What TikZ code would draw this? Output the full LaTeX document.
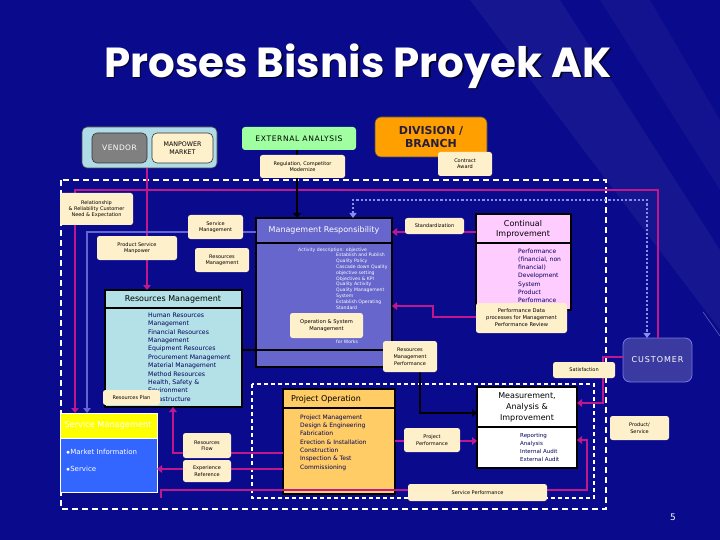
\documentclass[tikz,border=0pt]{standalone}
\usepackage{fontspec}
\setmainfont{DejaVu Sans}
\newfontfamily\titlefont{Poppins}
\usetikzlibrary{arrows.meta}
\definecolor{bg}{RGB}{10,10,140}
\definecolor{cream}{RGB}{255,240,204}
\definecolor{grpblue}{RGB}{176,220,232}
\definecolor{vgray}{RGB}{128,128,128}
\definecolor{eagreen}{RGB}{160,255,160}
\definecolor{divorange}{RGB}{255,160,0}
\definecolor{mag}{RGB}{192,24,140}
\definecolor{lavline}{RGB}{100,100,210}
\definecolor{mrblue}{RGB}{102,102,204}
\definecolor{cipink}{RGB}{255,204,255}
\definecolor{rmcyan}{RGB}{180,224,232}
\definecolor{smyellow}{RGB}{255,255,0}
\definecolor{smblue}{RGB}{51,102,255}
\definecolor{poorange}{RGB}{255,204,102}
\definecolor{custfill}{RGB}{58,58,160}
\definecolor{custdraw}{RGB}{120,120,230}
\definecolor{dotc}{RGB}{140,140,235}
\definecolor{navy}{RGB}{0,0,90}
\definecolor{divtext}{RGB}{40,30,60}
\newcommand\mybox[7]{%
  \pgfmathsetmacro\mybxcx{(#2+#4)/2}%
  \pgfmathsetmacro\mybxcy{(#3+#5)/2}%
  \pgfmathsetmacro\mybxw{#4-#2}%
  \pgfmathsetmacro\mybxh{#5-#3}%
  \node[inner sep=0pt, outer sep=0pt, minimum width=\mybxw pt, minimum height=\mybxh pt, #6] (#1) at (\mybxcx,\mybxcy) {#7};}
\tikzset{
  lbl/.style={fill=cream, rounded corners=2.5pt, align=center, text=black, font=\fontsize{5}{6.3}\selectfont},
  mainbox/.style={draw=black, line width=1.6pt},
  hdr/.style={font=\fontsize{8}{10}\selectfont, align=center, inner sep=0pt},
  bodytxt/.style={font=\fontsize{6}{8.3}\selectfont, align=left, inner sep=0pt, anchor=north west, text=navy},
  tip/.style={-{Triangle[length=5pt,width=7.5pt]}},
  mgl/.style={draw=mag, line width=2.8pt},
  mga/.style={mgl, tip},
  blka/.style={draw=black, line width=2.4pt, tip},
  lava/.style={draw=lavline, line width=2.8pt, tip},
  dotl/.style={draw=dotc, line width=2.2pt, dotted, {Triangle[length=5pt,width=7pt]}-{Triangle[length=5pt,width=7pt]}},
  frame/.style={draw=white, line width=2pt, dash pattern=on 6pt off 4pt},
  frameb/.style={draw=white, line width=1.6pt, dash pattern=on 4pt off 3pt},
}
\begin{document}
\begin{tikzpicture}[x=1pt,y=-1pt]
\useasboundingbox (0,0) rectangle (720,540);
\fill[bg] (0,0) rectangle (720,540);
\fill[white,opacity=0.05] (470,0) -- (560,0) -- (720,250) -- (720,330) -- cycle;
\fill[white,opacity=0.04] (600,0) -- (650,0) -- (720,120) -- (720,190) -- cycle;
\draw[white,opacity=0.35,line width=0.6pt] (703,312) -- (720,336);

% title
\node[font=\titlefont\bfseries\fontsize{42}{48}\selectfont, text=black, opacity=0.7] at (359.5,67.5) {Proses Bisnis Proyek AK};
\node[font=\titlefont\bfseries\fontsize{42}{48}\selectfont, text=white] (title) at (358,66) {Proses Bisnis Proyek AK};

% dashed frames
\draw[frame] (61,180) rectangle (606,509);
\draw[frameb] (252,384) rectangle (594,498);

% top boxes
\mybox{vg}{82}{127}{217}{168}{fill=grpblue, draw=black!70, line width=0.6pt, rounded corners=5pt}{}
\mybox{vendor}{92}{133}{147}{163}{fill=vgray, draw=black!80, line width=0.6pt, rounded corners=5pt, text=white, font=\fontsize{7.5}{9}\selectfont\addfontfeatures{LetterSpace=6}}{VENDOR}
\mybox{mp}{152}{133}{213}{163}{fill=cream, draw=black!80, line width=0.6pt, rounded corners=5pt, align=center, font=\fontsize{6.3}{7.8}\selectfont}{MANPOWER\\MARKET}
\mybox{ea}{242}{127}{356}{150}{fill=eagreen, rounded corners=3pt, font=\fontsize{7.6}{9}\selectfont\addfontfeatures{LetterSpace=8}}{EXTERNAL ANALYSIS}
\mybox{div}{375}{117}{487}{157}{fill=divorange, draw=black!70, line width=0.6pt, rounded corners=6pt, align=center, text=divtext, font=\bfseries\fontsize{11}{13.5}\selectfont}{DIVISION /\\BRANCH}

% main boxes
\mybox{mr}{256}{218}{392}{367}{mainbox, fill=mrblue}{}
\mybox{ci}{476}{214}{571}{310}{mainbox, fill=cipink}{}
\mybox{rm}{105}{290}{242}{407}{mainbox, fill=rmcyan}{}
\mybox{po}{283}{389}{395}{494}{mainbox, fill=poorange}{}
\mybox{ma}{477}{387}{577}{468}{mainbox, line width=2pt, fill=white}{}
\mybox{smh}{60}{413}{157}{438}{fill=smyellow, draw=white, line width=0.6pt}{}
\mybox{smb}{60}{438}{157}{492}{fill=smblue, draw=white, line width=0.6pt}{}
\mybox{cust}{623}{338}{692}{382}{fill=custfill, draw=custdraw, line width=0.8pt, rounded corners=7pt, text=white, font=\fontsize{8}{9}\selectfont\addfontfeatures{LetterSpace=12}}{CUSTOMER}

% dividers
\draw[black, line width=1.6pt] (mr.west |- 0,243) -- (mr.east |- 0,243);
\draw[black, line width=1.6pt] (ci.west |- 0,243) -- (ci.east |- 0,243);
\draw[black, line width=1.6pt] (rm.west |- 0,308) -- (rm.east |- 0,308);
\draw[black, line width=1.6pt] (po.west |- 0,408) -- (po.east |- 0,408);
\draw[black, line width=2pt] (ma.west |- 0,427) -- (ma.east |- 0,427);

% headers
\node[hdr, text=white] (mrh) at (324,230) {Management Responsibility};
\node[hdr, font=\fontsize{8}{10}\selectfont] (cih) at (523,229) {Continual\\Improvement};
\node[hdr] (rmh) at (173,299) {Resources Management};
\node[hdr] (poh) at (326,399) {Project Operation};
\node[hdr, font=\fontsize{8}{11}\selectfont] (mah) at (527,407) {Measurement,\\Analysis \&\\Improvement};
\node[hdr, text=white, font=\fontsize{8.2}{10}\selectfont] (smt) at (108,425.5) {Service Management};

% bodies
\node[bodytxt, text=white, font=\fontsize{4.6}{5.8}\selectfont] (mrb1) at (298,247.5) {Activity description: objective};
\node[bodytxt, text=white, font=\fontsize{4.6}{5.8}\selectfont] (mrb2) at (336,253.3) {Establish and Publish\\Quality Policy\\Cascade down Quality\\objective setting\\Objectives \& KPI\\Quality Activity\\Quality Management\\System\\Establish Operating\\Standard};
\node[bodytxt, text=white, font=\fontsize{4.6}{5.8}\selectfont] (mrb3) at (336,339.5) {for Works};
\node[bodytxt, font=\fontsize{6}{8.2}\selectfont] (cib) at (518,248.5) {Performance\\(financial, non\\financial)\\Development\\System\\Product\\Performance};
\node[bodytxt, font=\fontsize{6.2}{8.4}\selectfont] (rmb) at (148,312.5) {Human Resources\\Management\\Financial Resources\\Management\\Equipment Resources\\Procurement Management\\Material Management\\Method Resources\\Health, Safety \&\\Environment\\Infrastructure};
\node[bodytxt, font=\fontsize{6}{8.3}\selectfont] (pob) at (300,414.5) {Project Management\\Design \& Engineering\\Fabrication\\Erection \& Installation\\Construction\\Inspection \& Test\\Commissioning};
\node[bodytxt, font=\fontsize{5.5}{8}\selectfont] (mab) at (520,433.5) {Reporting\\Analysis\\Internal Audit\\External Audit};
\node[bodytxt, text=white, font=\fontsize{7}{17}\selectfont] (smbt) at (66,449) {$\bullet$Market Information\\$\bullet$Service};

% connectors
\coordinate (spstart) at (161,498);
\draw[dotl] (mr.north -| 353,0) |- (647,200) -- (cust.north -| 647,0);
\draw[mga] (cust.north -| 658,0) |- (75,190) -- (smh.north -| 75,0);
\draw[mga] (vg.south -| 147,0) -- (rm.north -| 147,0);
\draw[lava] (mr.west |- 0,232) -| (smh.north -| 87,0);
\draw[blka] (ea.south -| 297,0) -- (mr.north -| 297,0);
\draw[mga] (ci.west |- 0,232) -- (mr.east |- 0,232);
\draw[mga] (ci.west |- 0,317) -| (433,306) -- (mr.east |- 0,306);
\draw[blka] (rm.east |- 0,350) -| (420,413) -- (ma.west |- 0,413);
\draw[mga] (po.east |- 0,441) -- (ma.west |- 0,441);
\draw[mga] (cust.west |- 0,357) -| (603,403) -- (ma.east |- 0,403);
\draw[mga] (spstart) |- (587,490) |- (ma.east |- 0,440);
\draw[mga] (po.west |- 0,453) -| (rm.south -| 173,0);
\draw[mga] (po.west |- 0,469) -- (smb.east |- 0,469);

% labels
\mybox{reg}{260}{155}{345}{178}{lbl}{Regulation, Competitor\\Modernize}
\mybox{ca}{438}{152}{492}{176}{lbl}{Contract\\Award}
\mybox{rel}{60}{193}{133}{225}{lbl}{Relationship\\\& Reliability Customer\\Need \& Expectation}
\mybox{psm}{97}{236}{177}{260}{lbl}{Product Service\\Manpower}
\mybox{sml}{188}{215}{243}{239}{lbl}{Service\\Management}
\mybox{rml}{195}{248}{249}{272}{lbl}{Resources\\Management}
\mybox{std}{405}{218}{464}{234}{lbl}{Standardization}
\mybox{pd}{476}{303}{567}{333}{lbl, font=\fontsize{5.2}{7}\selectfont}{Performance Data\\processes for Management\\Performance Review}
\mybox{osm}{290}{313}{363}{338}{lbl, font=\fontsize{5.2}{7}\selectfont}{Operation \& System\\Management}
\mybox{rmp}{383}{341}{437}{372}{lbl, font=\fontsize{5}{7.2}\selectfont}{Resources\\Management\\Performance}
\mybox{sat}{553}{362}{615}{378}{lbl}{Satisfaction}
\mybox{rp}{103}{390}{160}{405}{lbl}{Resources Plan}
\mybox{rf}{183}{433}{231}{458}{lbl}{Resources\\Flow}
\mybox{er}{183}{460}{231}{482}{lbl}{Experience\\Reference}
\mybox{pp}{404}{428}{460}{452}{lbl}{Project\\Performance}
\mybox{ps}{610}{416}{669}{440}{lbl}{Product/\\Service}
\mybox{sp}{408}{484}{547}{501}{lbl}{Service Performance}

\node[text=white, font=\fontsize{9}{10}\selectfont] (pg) at (673,517) {5};
\end{tikzpicture}
\end{document}
